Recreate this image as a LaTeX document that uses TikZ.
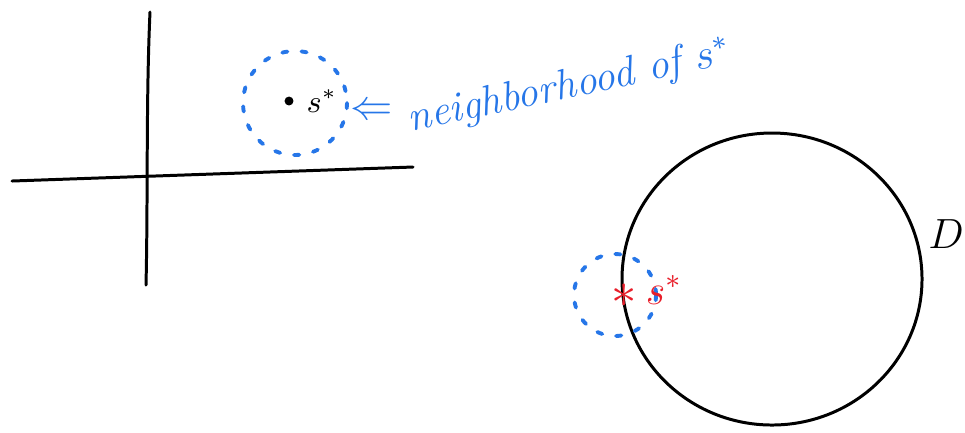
\documentclass[tikz,border=0pt]{standalone}
\usepackage{xcolor}
\usetikzlibrary{positioning}
\definecolor{penblue}{RGB}{38,118,232}
\definecolor{penred}{RGB}{232,30,42}
\begin{document}
\begin{tikzpicture}[x=0.01cm,y=-0.01cm,
    ink/.style={line width=0.85pt,line cap=round},
    nbhd/.style={penblue,line width=1.1pt,line cap=round,dash pattern=on 1.5pt off 4pt}]
    \useasboundingbox (0,0) rectangle (965,432);
    % axes
    \draw[ink] (150,12) .. controls (146,100) and (148,200) .. (146,285);
    \draw[ink] (12,181) -- (413,167);
    % neighborhood of s^*
    \node[circle,minimum size=1.04cm,inner sep=0pt] (ball) at (295,103) {};
    \draw[nbhd] (ball) circle (52);
    \node[circle,fill=black,inner sep=0.9pt] (spt) at (289,101) {};
    \node[right=0pt of spt,font=\small] (slab) {$s^*$};
    \node[penblue,font=\large] (arr) at (372,112) {$\Leftarrow$};
    \node[penblue,anchor=west,rotate=12,font=\large\itshape] (nlab) at (396,124) {neighborhood of $s^*$};
    % domain D
    \draw[ink] (772,279) ellipse (150 and 146);
    \node[font=\large] (D) at (946,234) {$D$};
    \node[circle,minimum size=0.8cm,inner sep=0pt] (bd) at (615,295) {};
    \draw[nbhd] (bd) circle (41);
    \node[penred,font=\Large] (star) at (624,296) {$\ast$};
    \node[penred,font=\large] (sbd) at (664,290) {$s^*$};
\end{tikzpicture}
\end{document}
